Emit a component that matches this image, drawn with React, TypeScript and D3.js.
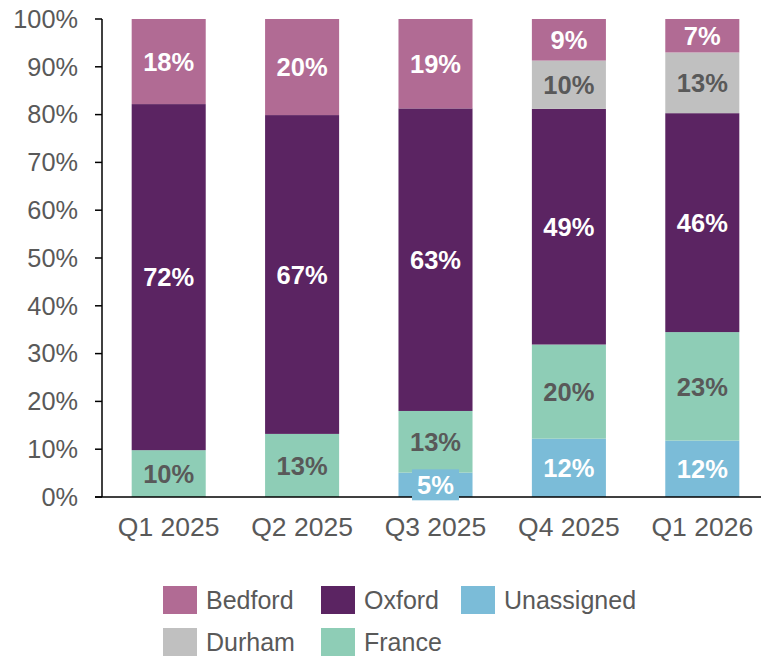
import React from "react";
import * as d3 from "d3";

const categories = ["Q1 2025", "Q2 2025", "Q3 2025", "Q4 2025", "Q1 2026"];
const seriesNames = ["Unassigned", "France", "Oxford", "Durham", "Bedford"];
const unassigned = [0, 0, 5.1, 12.2, 11.8];
const france = [9.8, 13.2, 12.9, 19.7, 22.7];
const oxford = [72.4, 66.7, 63.3, 49.3, 45.8];
const durham = [0, 0, 0, 10.1, 12.7];
const bedford = [17.8, 20.1, 18.7, 8.7, 7.0];
const yTicks = [0, 10, 20, 30, 40, 50, 60, 70, 80, 90, 100];
const legendRows = [["Bedford", "Oxford", "Unassigned"], ["Durham", "France"]];

const colors: Record<string, string> = {
  Bedford: "#B16B94",
  Oxford: "#5B2462",
  Unassigned: "#7BBCD8",
  Durham: "#C0C0C0",
  France: "#8ECDB6",
};
const labelColors: Record<string, string> = {
  Bedford: "#FFFFFF",
  Oxford: "#FFFFFF",
  Unassigned: "#FFFFFF",
  Durham: "#595959",
  France: "#595959",
};

const W = 761;
const H = 657;
const FONT = "'Liberation Sans', Arial, sans-serif";

export default function App() {
  const rows = categories.map((c, i) => ({
    cat: c,
    Unassigned: unassigned[i],
    France: france[i],
    Oxford: oxford[i],
    Durham: durham[i],
    Bedford: bedford[i],
  }));
  const stacked = d3.stack<any>().keys(seriesNames)(rows);

  const x = d3.scaleBand().domain(categories).range([102, 769]).paddingInner(0.445).paddingOuter(0.2225);
  const y = d3.scaleLinear().domain([0, 100]).range([497, 19]);

  return (
    <svg width={W} height={H} style={{ position: "absolute", left: 0, top: 0, background: "#fff" }}>
      {stacked.map((s) =>
        s.map((d, i) => {
          const v = d[1] - d[0];
          if (v <= 0) return null;
          return (
            <rect
              key={s.key + i}
              x={x(categories[i])}
              y={y(d[1])}
              width={x.bandwidth()}
              height={y(d[0]) - y(d[1])}
              fill={colors[s.key]}
            />
          );
        })
      )}
      {/* axes */}
      <line x1={102} x2={102} y1={19} y2={497} stroke="#000" strokeWidth={1.5} />
      <line x1={95} x2={761} y1={497} y2={497} stroke="#000" strokeWidth={1.5} />
      {yTicks.map((t) => (
        <g key={t}>
          <line x1={95} x2={102} y1={y(t)} y2={y(t)} stroke="#000" strokeWidth={1.5} />
          <text x={78} y={y(t)} dy="0.35em" textAnchor="end" fontFamily={FONT} fontSize={25.3} fill="#595959">
            {t}%
          </text>
        </g>
      ))}
      {categories.map((c) => (
        <text key={c} x={x(c)! + x.bandwidth() / 2} y={536} textAnchor="middle" fontFamily={FONT} fontSize={26.5} fill="#595959">
          {c}
        </text>
      ))}
      {/* data labels */}
      {stacked.map((s) =>
        s.map((d, i) => {
          const v = d[1] - d[0];
          if (v <= 0) return null;
          const cx = x(categories[i])! + x.bandwidth() / 2;
          const cy = (y(d[0]) + y(d[1])) / 2;
          const small = y(d[0]) - y(d[1]) < 30;
          return (
            <g key={"l" + s.key + i}>
              {small && (
                <rect x={cx - 23.5} y={cy - 15.5} width={47} height={31} fill={colors[s.key]} />
              )}
              <text x={cx} y={cy} dy="0.36em" textAnchor="middle" fontFamily={FONT} fontWeight="bold" fontSize={25.5} fill={labelColors[s.key]}>
                {Math.round(v)}%
              </text>
            </g>
          );
        })
      )}
      {/* legend */}
      {legendRows.map((row, ri) =>
        row.map((name, ci) => {
          const lx = [163, 321, 461][ci];
          const ly = 586 + ri * 42;
          return (
            <g key={name}>
              <rect x={lx} y={ly} width={34} height={28} fill={colors[name]} />
              <text x={lx + 43} y={ly + 14} dy="0.36em" fontFamily={FONT} fontSize={25} fill="#595959">
                {name}
              </text>
            </g>
          );
        })
      )}
    </svg>
  );
}
